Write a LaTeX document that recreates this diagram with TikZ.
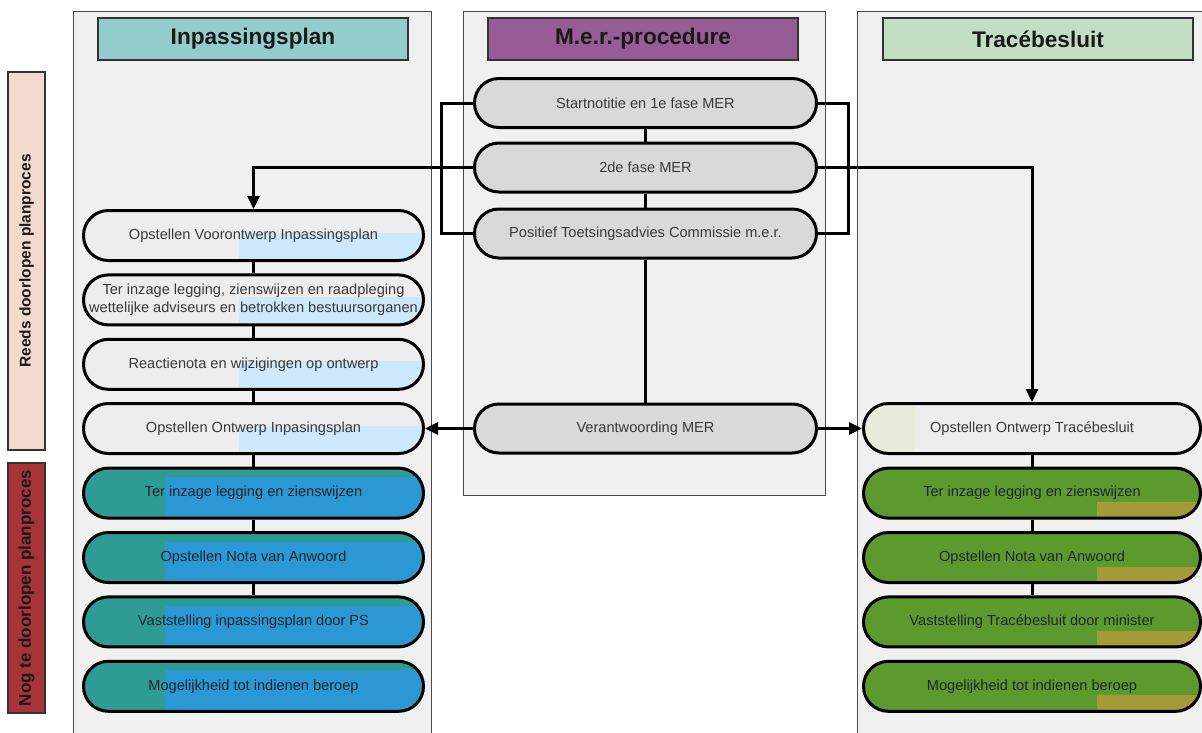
\documentclass[tikz,border=0pt]{standalone}
\usepackage{fontspec}
\setmainfont{Liberation Sans}
\usetikzlibrary{arrows.meta,calc}
\definecolor{panelbg}{HTML}{F0F0F0}
\definecolor{panelln}{HTML}{4A4A4A}
\definecolor{hdrA}{HTML}{93CDCB}
\definecolor{hdrB}{HTML}{975C96}
\definecolor{hdrC}{HTML}{C3DFC3}
\definecolor{reedsc}{HTML}{F3DACC}
\definecolor{nogc}{HTML}{A83338}
\definecolor{midgray}{HTML}{D9D9D9}
\definecolor{lightbox}{HTML}{EDEDED}
\definecolor{lightblue}{HTML}{CCE8FA}
\definecolor{tealc}{HTML}{2E9C93}
\definecolor{bluec}{HTML}{2B97D3}
\definecolor{greenc}{HTML}{5D9A2E}
\definecolor{mustard}{HTML}{A49B38}
\definecolor{beigec}{HTML}{E9EBDA}
\definecolor{txtgray}{HTML}{3A3A3A}
\definecolor{txtdark}{HTML}{1C2630}
\begin{document}
\begin{tikzpicture}[x=1pt,y=-1pt,
  panel/.style={draw=panelln,line width=1pt,fill=panelbg},
  hdr/.style={draw=black!80,line width=1.5pt,minimum width=310pt,minimum height=42pt,
    font=\fontsize{22.6}{26}\selectfont\bfseries,text=black!90},
  side/.style={draw=black!80,line width=1.5pt,rotate=90,minimum height=37pt,
    font=\fontsize{15.5}{18}\selectfont\bfseries,text=black!90,inner sep=0pt},
  pill/.style={draw=black,line width=3pt,rounded corners=24.9pt,inner sep=2pt,align=center,
    font=\fontsize{14.6}{17.5}\selectfont},
  midbox/.style={pill,fill=midgray,minimum width=342pt,minimum height=49pt,rounded corners=24.4pt,text=txtgray},
  lightL/.style={pill,fill=lightbox,minimum width=340pt,minimum height=50pt,text=txtgray,
    path picture={\fill[lightblue,sharp corners] ([xshift=155pt]path picture bounding box.south west) rectangle ([yshift=-22pt]path picture bounding box.north east);}},
  darkL/.style={pill,fill=tealc,minimum width=340pt,minimum height=50pt,text=txtdark,
    path picture={\fill[bluec,sharp corners] ([xshift=81pt]path picture bounding box.south west) rectangle ([yshift=-9pt]path picture bounding box.north east);}},
  greenR/.style={pill,fill=greenc,minimum width=337pt,minimum height=50pt,text=txtdark,
    path picture={\fill[mustard,sharp corners] ([xshift=-104pt]path picture bounding box.south east) rectangle ([yshift=16pt]path picture bounding box.south east);}},
  lightR/.style={pill,fill=lightbox,minimum width=337pt,minimum height=50pt,text=txtgray,
    path picture={\fill[beigec,sharp corners] (path picture bounding box.south west) rectangle ([xshift=51pt]path picture bounding box.north west);}},
  conn/.style={draw=black,line width=3pt},
  arr/.style={conn,-{Triangle[length=13pt,width=12pt]}}
]
\useasboundingbox (0,0) rectangle (1202,732);
\fill[white] (0,0) rectangle (1202,732);
\clip (0,0) rectangle (1202,732);

% panels
\draw[panel] (73,11) rectangle (431,745);
\draw[panel] (463,11) rectangle (825,495);
\draw[panel] (857,11) rectangle (1215,745);

% headers
\node[hdr,fill=hdrA] (h1) at (253,39) {Inpassingsplan};
\node[hdr,fill=hdrB] (h2) at (643,39) {M.e.r.-procedure};
\node[hdr,fill=hdrC] (h3) at (1038,39) {Tracébesluit};

% side labels
\node[side,fill=reedsc,minimum width=378pt] (s1) at (26.5,261) {Reeds doorlopen planproces};
\node[side,fill=nogc,minimum width=250pt,font=\fontsize{17}{19}\selectfont\bfseries] (s2) at (26.5,588) {Nog te doorlopen planproces};

% middle column
\node[midbox] (n1) at (645.5,103) {Startnotitie en 1e fase MER};
\node[midbox] (n2) at (645.5,167.5) {2de fase MER};
\node[midbox] (n3) at (645.5,233.5) {Positief Toetsingsadvies Commissie m.e.r.};
\node[midbox] (n4) at (645.5,428.5) {Verantwoording MER};

% left column
\node[lightL] (l1) at (253.5,235.5) {Opstellen Voorontwerp Inpassingsplan};
\node[lightL] (l2) at (253.5,299.9) {Ter inzage legging, zienswijzen en raadpleging\\wettelijke adviseurs en betrokken bestuursorganen};
\node[lightL] (l3) at (253.5,364.3) {Reactienota en wijzigingen op ontwerp};
\node[lightL] (l4) at (253.5,428.5) {Opstellen Ontwerp Inpasingsplan};
\node[darkL] (l5) at (253.5,493.1) {Ter inzage legging en zienswijzen};
\node[darkL] (l6) at (253.5,557.5) {Opstellen Nota van Anwoord};
\node[darkL] (l7) at (253.5,621.9) {Vaststelling inpassingsplan door PS};
\node[darkL] (l8) at (253.5,686.3) {Mogelijkheid tot indienen beroep};

% right column
\node[lightR] (r1) at (1032,428.5) {Opstellen Ontwerp Tracébesluit};
\node[greenR] (r2) at (1032,493.1) {Ter inzage legging en zienswijzen};
\node[greenR] (r3) at (1032,557.5) {Opstellen Nota van Anwoord};
\node[greenR] (r4) at (1032,621.9) {Vaststelling Tracébesluit door minister};
\node[greenR] (r5) at (1032,686.3) {Mogelijkheid tot indienen beroep};

% connectors middle
\draw[conn] (n1.south) -- (n2.north);
\draw[conn] (n2.south) -- (n3.north);
\draw[conn] (n3.south) -- (n4.north);
\draw[conn] (n1.west) -- ([xshift=-32pt]n1.west) |- (n3.west);
\draw[conn] (n1.east) -- ([xshift=30pt]n1.east) |- (n3.east);

% arrows out of 2de fase
\draw[arr] (n2.west) -| (l1.north);
\draw[arr] (n2.east) -| (r1.north);
% arrows out of Verantwoording
\draw[arr] (n4.west) -- (l4.east);
\draw[arr] (n4.east) -- (r1.west);

% left chain
\draw[conn] (l1.south) -- (l2.north);
\draw[conn] (l2.south) -- (l3.north);
\draw[conn] (l3.south) -- (l4.north);
\draw[conn] (l4.south) -- (l5.north);
\draw[conn] (l5.south) -- (l6.north);
\draw[conn] (l6.south) -- (l7.north);

% right chain
\draw[conn] (r1.south) -- (r2.north);
\draw[conn] (r2.south) -- (r3.north);
\draw[conn] (r3.south) -- (r4.north);
\end{tikzpicture}
\end{document}
